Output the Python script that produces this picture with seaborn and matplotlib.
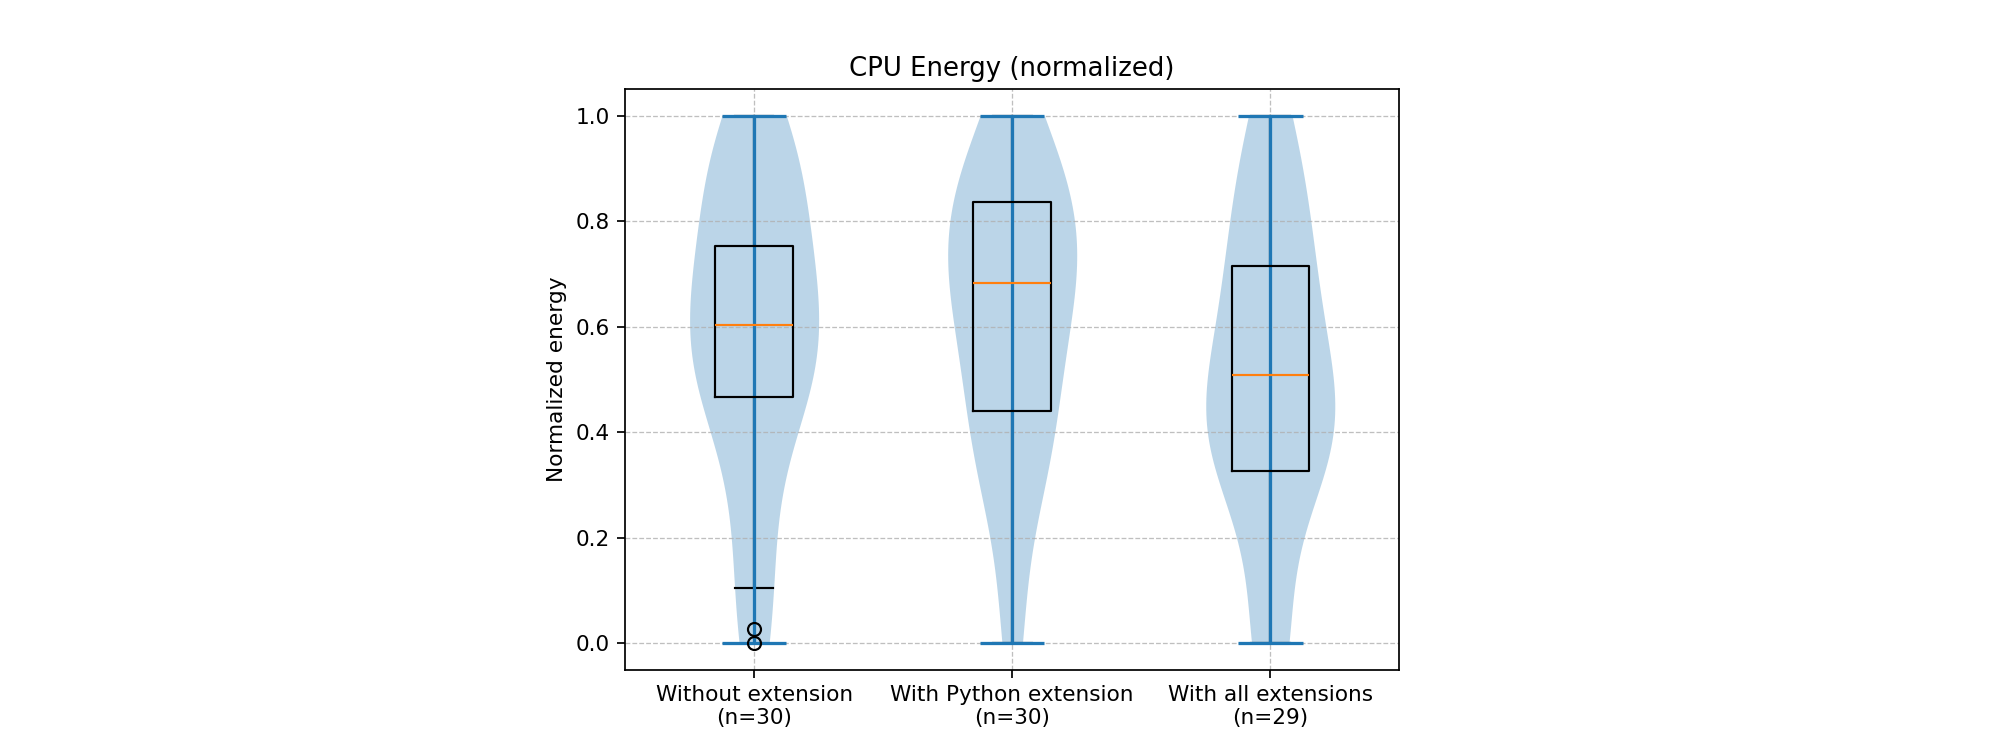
import numpy as np
import pandas as pd
import matplotlib
matplotlib.use('Agg')
import matplotlib.pyplot as plt
import seaborn as sns

# normalized CPU energy per run
groups = ['Without extension', 'With Python extension', 'With all extensions']

no_ext = [0.0, 0.027, 0.104, 0.24, 0.246, 0.348, 0.458, 0.46, 0.488, 0.509,
          0.51, 0.515, 0.537, 0.548, 0.6, 0.607, 0.661, 0.68, 0.702, 0.727,
          0.734, 0.74, 0.758, 0.899, 0.902, 0.912, 0.915, 0.925, 0.938, 1.0]

python_ext = [0.0, 0.085, 0.249, 0.29, 0.324, 0.367, 0.385, 0.43, 0.468, 0.493,
              0.531, 0.57, 0.585, 0.59, 0.675, 0.692, 0.708, 0.71, 0.715, 0.73,
              0.738, 0.82, 0.842, 0.843, 0.853, 0.87, 0.88, 0.952, 0.999, 1.0]

all_ext = [0.0, 0.001, 0.002, 0.153, 0.322, 0.324, 0.325, 0.326, 0.372, 0.394,
           0.408, 0.415, 0.423, 0.448, 0.508, 0.51, 0.518, 0.55, 0.622, 0.632,
           0.675, 0.716, 0.743, 0.77, 0.796, 0.894, 0.922, 0.938, 1.0]

samples = [no_ext, python_ext, all_ext]
tick_labels = [f'{g}\n(n={len(s)})' for g, s in zip(groups, samples)]

df = pd.DataFrame({
    'group': np.repeat(groups, [len(s) for s in samples]),
    'energy': np.concatenate(samples),
})

dpi = 156
fig = plt.figure(figsize=(1999 / dpi, 750 / dpi), dpi=dpi)
ax = fig.add_axes([0.3127, 0.107, 0.3873, 0.774])

# violin bodies
sns.violinplot(data=df, x='group', y='energy', order=groups, cut=0, inner=None,
               density_norm='width', width=0.5, color='C0', saturation=1,
               linewidth=0, alpha=0.3, ax=ax)

# extrema + center bars like matplotlib's violinplot
pos = np.arange(len(samples))
mins = [min(s) for s in samples]
maxs = [max(s) for s in samples]
ax.vlines(pos, mins, maxs, color='C0', lw=1.5, zorder=2)
ax.hlines(mins, pos - 0.125, pos + 0.125, color='C0', lw=1.5, zorder=2)
ax.hlines(maxs, pos - 0.125, pos + 0.125, color='C0', lw=1.5, zorder=2)

# box overlay (whiskers sit under the blue bars)
ax.boxplot(samples, positions=pos, manage_ticks=False,
           whiskerprops=dict(zorder=1.8), capprops=dict(zorder=1.8),
           boxprops=dict(zorder=2.5), medianprops=dict(zorder=3),
           flierprops=dict(zorder=3))

ax.set_xticks(pos, tick_labels)
ax.set_xlim(-0.5, len(samples) - 0.5)
ax.set_xlabel('')
ax.set_ylabel('Normalized energy')
ax.set_title('CPU Energy (normalized)')
ax.grid(True, linestyle='--', linewidth=0.6, alpha=0.8)

fig.savefig('out.png', dpi=dpi)
